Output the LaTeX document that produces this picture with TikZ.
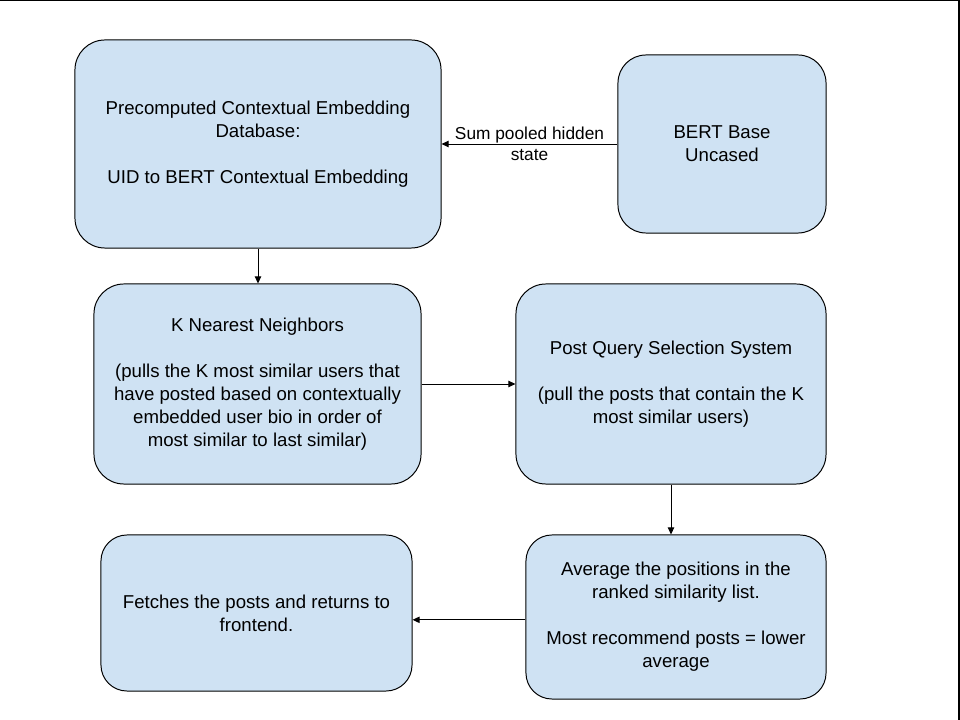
\documentclass[tikz,border=0pt]{standalone}
\usepackage{fontspec}
\setmainfont{Liberation Sans}
\usetikzlibrary{arrows.meta,positioning}
\definecolor{boxblue}{HTML}{CFE2F3}

\begin{document}
\begin{tikzpicture}[x=0.025cm, y=-0.025cm]

%% ── helpers ───────────────────────────────────────────────
\tikzset{
  block/.style={rectangle,draw=black,fill=boxblue,rounded corners=#1,
                line width=0.7pt,align=center,inner sep=0pt,
                font=\fontsize{13.25}{16.3}\selectfont},
  block/.default=0.75cm,
  lbl/.style={align=center,inner sep=0pt,
              font=\fontsize{12.3}{14.9}\selectfont},
  arr/.style={-{Triangle[length=5pt,width=4.5pt]},line width=0.7pt},
}

\useasboundingbox (0,0) rectangle (960,720);
\draw[line width=1.4pt] (0,0.5) -- (959,0.5) -- (959,720);

%% ── TOP ROW: database and encoder ─────────────────────────
\node[block,minimum width=9.15cm,minimum height=5.2cm] (db) at (258,144)
  {Precomputed Contextual Embedding\\Database:\\[16.3pt]UID to BERT Contextual Embedding};
\node[block=0.7cm,minimum width=5.2cm,minimum height=4.45cm] (bert) at (722,144)
  {BERT Base\\Uncased};

\draw[arr] (bert.west) -- node[lbl] {Sum pooled hidden\\state} (db.east);

%% ── MIDDLE ROW: neighbours and post query ────────────────
\node[block,minimum width=8.175cm,minimum height=5.0cm] (knn) at (257.5,384)
  {K Nearest Neighbors\\[16.3pt](pulls the K most similar users that\\have posted based on contextually\\embedded user bio in order of\\most similar to last similar)};
\node[block,minimum width=7.75cm,minimum height=5.0cm] (query) at (671,384)
  {Post Query Selection System\\[16.3pt](pull the posts that contain the K\\most similar users)};

\draw[arr] (db.south) -- (db.south |- knn.north);
\draw[arr] (knn.east) -- (query.west);

%% ── BOTTOM ROW: ranking and fetch ────────────────────────
\node[block=0.65cm,minimum width=7.5cm,minimum height=4.1cm] (rank) at (676,617)
  {Average the positions in the\\ranked similarity list.\\[16.3pt]Most recommend posts = lower\\average};
\node[block=0.65cm,minimum width=7.775cm,minimum height=3.9cm] (fetch) at (256.5,613)
  {Fetches the posts and returns to\\frontend.};

\draw[arr] (query.south) -- (query.south |- rank.north);
\draw[arr] ([yshift=-2pt]rank.west) -- ([yshift=-2pt]rank.west -| fetch.east);

\end{tikzpicture}
\end{document}
